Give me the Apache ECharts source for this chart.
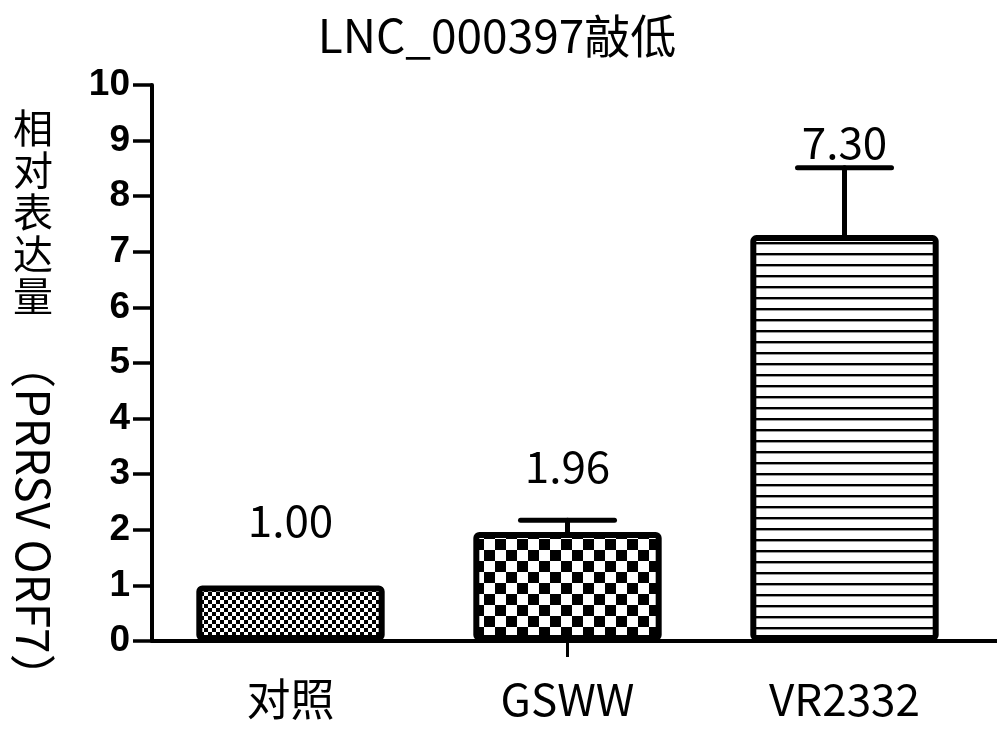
<!DOCTYPE html>
<html><head><meta charset="utf-8">
<script src="https://cdn.jsdelivr.net/npm/echarts@6/dist/echarts.min.js"></script>
<style>html,body{margin:0;padding:0;background:#fff}#c{width:1000px;height:738px}</style>
</head><body><div id="c"></div>
<script>
// ---- data ----
const chartTitle = 'LNC_000397敲低';
const categories = ['对照', 'GSWW', 'VR2332'];
const means = [1.00, 1.96, 7.30];
const errors = [0, 0.21, 1.21];
const valueLabels = ['1.00', '1.96', '7.30'];
const yNameCJK = ['相', '对', '表', '达', '量'];
const yNameLatin = '（PRRSV ORF7）';
const yMin = 0, yMax = 10, yStep = 1;

// ---- styles ----
const CJK = '"Noto Sans CJK SC", "Noto Sans", sans-serif';
function checker(cell) {
  const c = document.createElement('canvas');
  c.width = c.height = cell * 2;
  const g = c.getContext('2d');
  g.fillStyle = '#fff'; g.fillRect(0, 0, cell * 2, cell * 2);
  g.fillStyle = '#000'; g.fillRect(0, 0, cell, cell); g.fillRect(cell, cell, cell, cell);
  return c;
}
function stripes(gap, thick) {
  const c = document.createElement('canvas');
  c.width = 8; c.height = gap;
  const g = c.getContext('2d');
  g.fillStyle = '#fff'; g.fillRect(0, 0, 8, gap);
  g.fillStyle = '#000'; g.fillRect(0, 0, 8, thick);
  return c;
}
const fills = [
  { image: checker(4), repeat: 'repeat' },
  { image: checker(11), repeat: 'repeat' },
  { image: stripes(11.7, 2.4), repeat: 'repeat' }
];
const labelLift = [65, 54, 26];

const chart = echarts.init(document.getElementById('c'), null, { renderer: 'canvas' });
const gridTop = 85, gridBottom = 97, gridLeft = 152, gridRight = 17;

chart.setOption({
  backgroundColor: '#fff',
  animation: false,
  title: {
    text: chartTitle, left: 492, top: 8, textAlign: 'center',
    textStyle: { fontFamily: CJK, fontSize: 46, fontWeight: 'normal', color: '#000' }
  },
  grid: { left: gridLeft, right: gridRight, top: gridTop, bottom: gridBottom, containLabel: false },
  xAxis: {
    type: 'category', data: categories,
    axisLine: { lineStyle: { color: '#000', width: 4 } },
    axisTick: { show: true, alignWithLabel: true, interval: (i) => i === 1, length: 16, lineStyle: { color: '#000', width: 3 } },
    axisLabel: { color: '#000', fontFamily: CJK, fontSize: 44, margin: 36 },
    splitLine: { show: false }
  },
  yAxis: {
    type: 'value', min: yMin, max: yMax, interval: yStep,
    axisLine: { show: true, lineStyle: { color: '#000', width: 4 } },
    axisTick: { show: true, length: 19, lineStyle: { color: '#000', width: 3.5 } },
    axisLabel: { color: '#000', fontFamily: '"Liberation Sans", Arial, sans-serif', fontWeight: 'bold', fontSize: 37, margin: 22 },
    splitLine: { show: false }
  },
  graphic: [
    { type: 'line', shape: { x1: 1000 - gridRight - 2, y1: 738 - gridBottom, x2: 997, y2: 738 - gridBottom },
      style: { stroke: '#000', lineWidth: 4 } },
    { type: 'text', x: 33, y: 107,
      style: { text: yNameCJK.join('\n'), fontFamily: CJK, fontSize: 40, lineHeight: 42, fill: '#000', align: 'center', textAlign: 'center' } },
    { type: 'text', x: 33, y: 521, rotation: -Math.PI / 2,
      style: { text: yNameLatin, fontFamily: CJK, fontSize: 46, fill: '#000',
        align: 'center', verticalAlign: 'middle', textAlign: 'center', textVerticalAlign: 'middle' } }
  ],
  series: [
    {
      type: 'bar', barWidth: '68%', z: 2,
      data: means.map((v, i) => ({
        value: v,
        itemStyle: { color: fills[i], borderColor: '#000', borderWidth: 6, borderRadius: 3 }
      }))
    },
    {
      type: 'custom', z: 1,
      data: means.map((v, i) => [i, v, errors[i]]),
      renderItem: function (params, api) {
        const i = api.value(0), m = api.value(1), e = api.value(2);
        const base = api.coord([i, m]);
        const top = api.coord([i, m + e]);
        const children = [];
        if (e > 0) {
          const st = { stroke: '#000', lineWidth: 5, lineCap: 'round' };
          children.push({ type: 'line', shape: { x1: base[0], y1: base[1], x2: top[0], y2: top[1] }, style: st });
          children.push({ type: 'line', shape: { x1: top[0] - 47, y1: top[1], x2: top[0] + 47, y2: top[1] }, style: st });
        }
        return { type: 'group', children: children };
      }
    },
    {
      type: 'custom', z: 3,
      data: means.map((v, i) => [i, v, errors[i]]),
      renderItem: function (params, api) {
        const i = api.value(0), m = api.value(1), e = api.value(2);
        const top = api.coord([i, m + e]);
        return {
          type: 'text', x: top[0], y: top[1] - labelLift[params.dataIndex],
          style: { text: valueLabels[params.dataIndex], fontFamily: CJK, fontSize: 44, fill: '#000',
            align: 'center', verticalAlign: 'middle', textAlign: 'center', textVerticalAlign: 'middle' }
        };
      }
    }
  ]
});
</script></body></html>
